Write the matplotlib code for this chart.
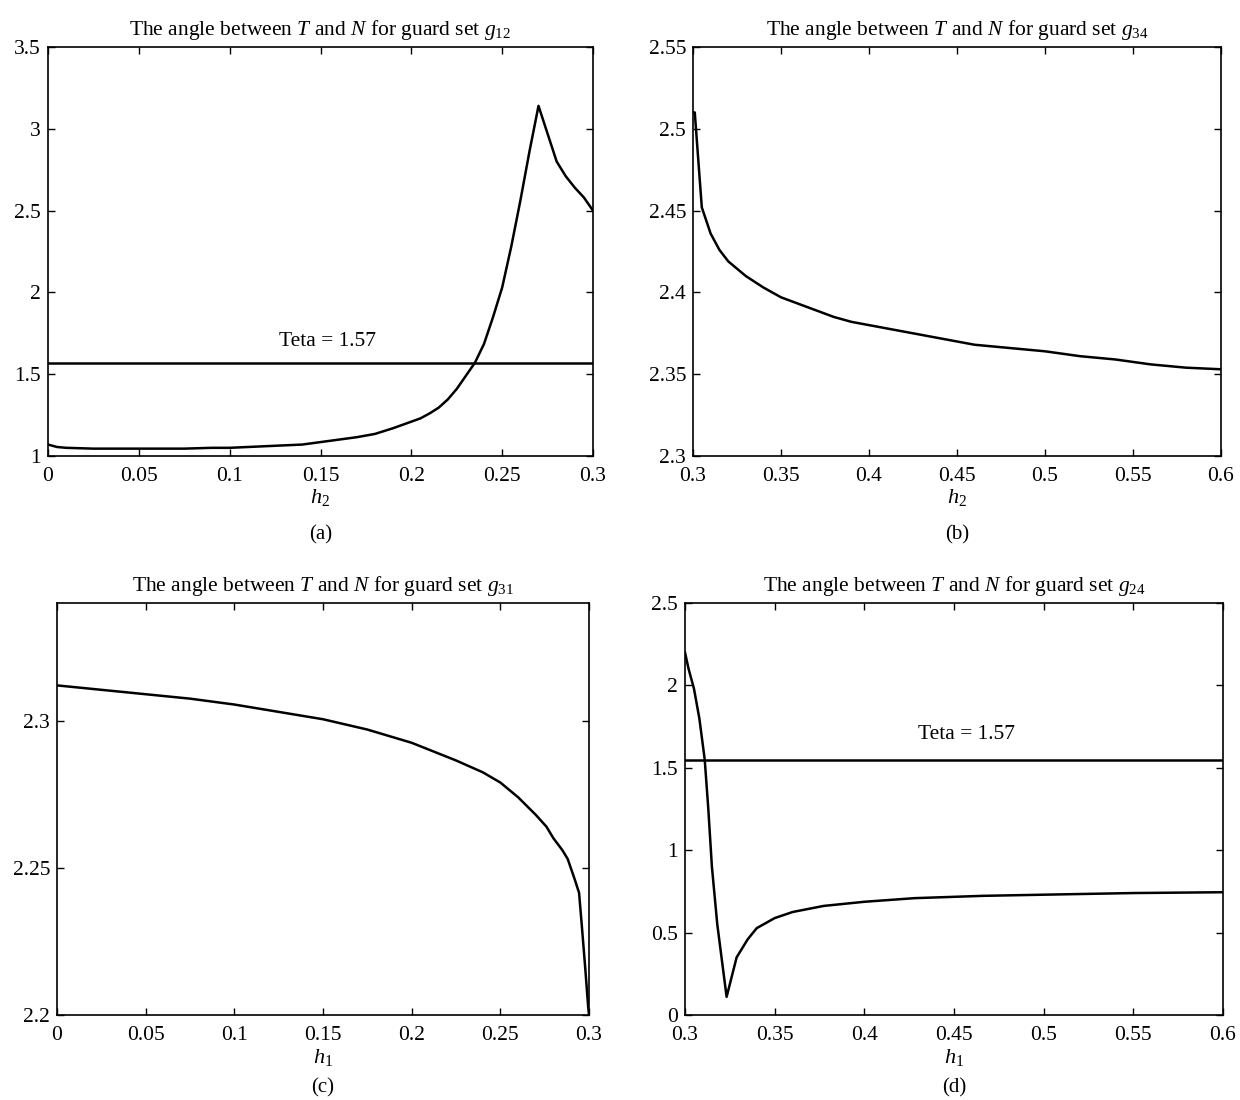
import matplotlib
matplotlib.use('Agg')
import matplotlib.pyplot as plt

plt.rcParams['font.family'] = ['Liberation Serif', 'DejaVu Serif']
plt.rcParams['mathtext.fontset'] = 'custom'
plt.rcParams['mathtext.rm'] = 'Liberation Serif'
plt.rcParams['mathtext.it'] = 'Liberation Serif:italic'

# (a) guard set g12
xa = [0, 0.005, 0.01, 0.025, 0.05, 0.075, 0.09, 0.1, 0.11, 0.12, 0.13, 0.14, 0.15,
      0.16, 0.17, 0.18, 0.19, 0.2, 0.205, 0.21, 0.215, 0.22, 0.225, 0.23, 0.235,
      0.24, 0.245, 0.25, 0.255, 0.26, 0.265, 0.27, 0.275, 0.28, 0.285, 0.29, 0.295, 0.3]
ya = [1.07, 1.055, 1.05, 1.045, 1.045, 1.045, 1.05, 1.05, 1.055, 1.06, 1.065, 1.07, 1.085,
      1.10, 1.115, 1.135, 1.17, 1.21, 1.23, 1.26, 1.295, 1.345, 1.41, 1.49, 1.57,
      1.685, 1.85, 2.03, 2.28, 2.56, 2.86, 3.14, 2.97, 2.80, 2.71, 2.64, 2.58, 2.50]

# (b) guard set g34
xb = [0.3, 0.301, 0.305, 0.31, 0.315, 0.32, 0.33, 0.34, 0.35, 0.36, 0.37, 0.38, 0.39,
      0.4, 0.42, 0.44, 0.45, 0.46, 0.48, 0.5, 0.52, 0.54, 0.56, 0.58, 0.6]
yb = [2.51, 2.51, 2.452, 2.436, 2.426, 2.419, 2.41, 2.403, 2.397, 2.393, 2.389, 2.385, 2.382,
      2.38, 2.376, 2.372, 2.37, 2.368, 2.366, 2.364, 2.361, 2.359, 2.356, 2.354, 2.353]

# (c) guard set g31
xc = [0, 0.025, 0.05, 0.075, 0.1, 0.125, 0.15, 0.175, 0.2, 0.225, 0.24, 0.25, 0.26,
      0.27, 0.276, 0.28, 0.285, 0.288, 0.292, 0.2944, 0.296, 0.298, 0.2995, 0.3]
yc = [2.312, 2.3105, 2.309, 2.3075, 2.3055, 2.303, 2.3005, 2.297, 2.2925, 2.2865, 2.2825, 2.279, 2.274,
      2.268, 2.264, 2.260, 2.256, 2.253, 2.246, 2.2415, 2.23, 2.215, 2.203, 2.2]

# (d) guard set g24
xd = [0.3, 0.302, 0.305, 0.308, 0.311, 0.313, 0.315, 0.318, 0.3232, 0.3288, 0.335, 0.34,
      0.35, 0.36, 0.3774, 0.4, 0.428, 0.466, 0.5, 0.55, 0.6]
yd = [2.2, 2.1, 1.98, 1.8, 1.55, 1.25, 0.9, 0.55, 0.11, 0.35, 0.46, 0.527,
      0.588, 0.625, 0.662, 0.687, 0.709, 0.723, 0.73, 0.74, 0.745]

teta_a = 1.57
teta_d = 1.55

xt_low = [0, 0.05, 0.1, 0.15, 0.2, 0.25, 0.3]
xt_low_lbl = ['0', '0.05', '0.1', '0.15', '0.2', '0.25', '0.3']
xt_high = [0.3, 0.35, 0.4, 0.45, 0.5, 0.55, 0.6]
xt_high_lbl = ['0.3', '0.35', '0.4', '0.45', '0.5', '0.55', '0.6']
yt_a = [1, 1.5, 2, 2.5, 3, 3.5]
yt_a_lbl = ['1', '1.5', '2', '2.5', '3', '3.5']
yt_b = [2.3, 2.35, 2.4, 2.45, 2.5, 2.55]
yt_b_lbl = ['2.3', '2.35', '2.4', '2.45', '2.5', '2.55']
yt_c = [2.2, 2.25, 2.3]
yt_c_lbl = ['2.2', '2.25', '2.3']
yt_d = [0, 0.5, 1, 1.5, 2, 2.5]
yt_d_lbl = ['0', '0.5', '1', '1.5', '2', '2.5']

fig = plt.figure(figsize=(12.4, 11), dpi=100)
W, H = 1240, 1100


def make_ax(l, r, t, b):
    return fig.add_axes([l / W, 1 - b / H, (r - l) / W, (b - t) / H])


def style(ax, sub, title_sub, xlab_sub, sub_y):
    ax.set_title(r'The angle between $\mathit{T}$ and $\mathit{N}$ for guard set $\mathit{g}_{' + title_sub + '}$',
                 fontsize=15.5, pad=9)
    ax.set_xlabel(r'$\mathit{h}_{' + xlab_sub + '}$', fontsize=16, labelpad=1)
    ax.tick_params(direction='in', top=True, right=True, length=5, width=1,
                   labelsize=15.5)
    ax.tick_params(axis='x', pad=8)
    ax.tick_params(axis='y', pad=5)
    for s in ax.spines.values():
        s.set_linewidth(1.2)
    ax.text(0.5, sub_y, sub, transform=ax.transAxes, ha='center', va='center', fontsize=15)


ax = make_ax(48, 593, 47, 456)
ax.plot(xa, ya, 'k', lw=1.8)
ax.axhline(teta_a, color='k', lw=1.8)
ax.text(0.154, 1.70, 'Teta = 1.57', ha='center', va='center', fontsize=15.5)
ax.set_xlim(0, 0.3)
ax.set_ylim(1, 3.5)
ax.set_xticks(xt_low, xt_low_lbl)
ax.set_yticks(yt_a, yt_a_lbl)
style(ax, '(a)', '12', '2', -0.193)

ax = make_ax(693, 1221, 47, 456)
ax.plot(xb, yb, 'k', lw=1.8)
ax.set_xlim(0.3, 0.6)
ax.set_ylim(2.3, 2.55)
ax.set_xticks(xt_high, xt_high_lbl)
ax.set_yticks(yt_b, yt_b_lbl)
style(ax, '(b)', '34', '2', -0.193)

ax = make_ax(57, 589, 603, 1015)
ax.plot(xc, yc, 'k', lw=1.8)
ax.set_xlim(0, 0.3)
ax.set_ylim(2.2, 2.34)
ax.set_xticks(xt_low, xt_low_lbl)
ax.set_yticks(yt_c, yt_c_lbl)
style(ax, '(c)', '31', '1', -0.176)

ax = make_ax(685, 1223, 603, 1015)
ax.plot(xd, yd, 'k', lw=1.8)
ax.axhline(teta_d, color='k', lw=1.8)
ax.text(0.457, 1.70, 'Teta = 1.57', ha='center', va='center', fontsize=15.5)
ax.set_xlim(0.3, 0.6)
ax.set_ylim(0, 2.5)
ax.set_xticks(xt_high, xt_high_lbl)
ax.set_yticks(yt_d, yt_d_lbl)
style(ax, '(d)', '24', '1', -0.176)

fig.savefig('out.png', dpi=100)
